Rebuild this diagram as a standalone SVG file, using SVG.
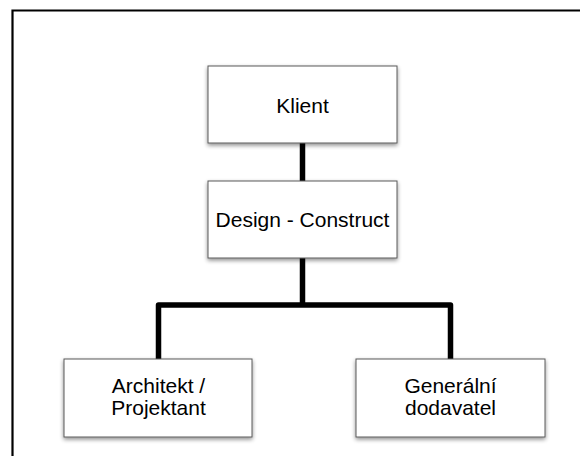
<svg xmlns="http://www.w3.org/2000/svg" width="580" height="456" viewBox="0 0 580 456">
  <style>
    .box { fill: #ffffff; stroke: #5a5a5a; stroke-width: 1; filter: url(#shadow); }
    .lbl { font-family: "Liberation Sans", Arial, sans-serif; font-size: 21px; fill: #000000; text-anchor: middle; }
    .link { fill: none; stroke: #000000; stroke-width: 5.5; stroke-linejoin: round; }
  </style>
  <defs>
    <filter id="shadow" x="-10%" y="-15%" width="120%" height="135%">
      <feGaussianBlur in="SourceAlpha" stdDeviation="2"/>
      <feOffset dx="0" dy="2" result="blur"/>
      <feComponentTransfer><feFuncA type="linear" slope="0.45"/></feComponentTransfer>
      <feMerge><feMergeNode/><feMergeNode in="SourceGraphic"/></feMerge>
    </filter>
  </defs>

  <rect width="580" height="456" fill="#ffffff"/>
  <!-- outer frame (top and left edges) -->
  <path d="M12.5 460 V10.5 H584" fill="none" stroke="#000000" stroke-width="2.2"/>

  <g id="connectors">
    <path class="link" d="M302.5 143 V181"/>
    <path class="link" d="M302.5 258 V305"/>
    <path class="link" d="M158.5 359 V305 H450.5 V359"/>
  </g>

  <g id="klient">
    <rect class="box" x="208" y="66" width="189" height="77"/>
    <text class="lbl" x="302.5" y="112.5">Klient</text>
  </g>

  <g id="design-construct">
    <rect class="box" x="208" y="181" width="189" height="77"/>
    <text class="lbl" x="302.5" y="227">Design - Construct</text>
  </g>

  <g id="architekt">
    <rect class="box" x="64" y="359" width="188" height="78"/>
    <text class="lbl" x="158.5" y="392.5">Architekt /</text>
    <text class="lbl" x="158.5" y="415">Projektant</text>
  </g>

  <g id="generalni-dodavatel">
    <rect class="box" x="356" y="359" width="189" height="78"/>
    <text class="lbl" x="450.5" y="392.5">Generální</text>
    <text class="lbl" x="450.5" y="415">dodavatel</text>
  </g>
</svg>
